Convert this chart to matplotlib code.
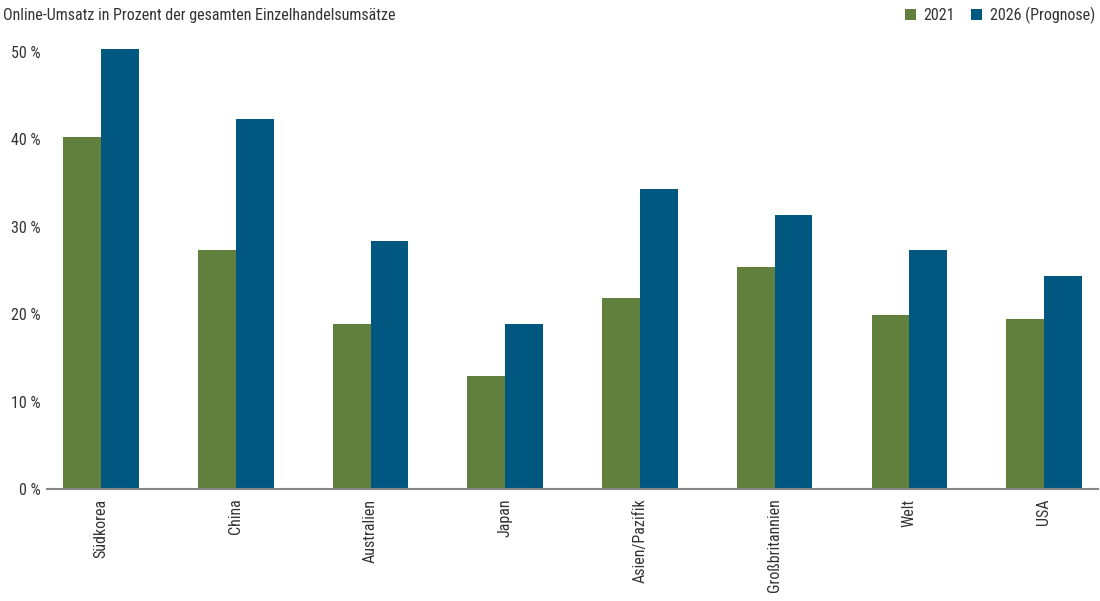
import matplotlib.pyplot as plt
import numpy as np
from matplotlib import font_manager

CATEGORIES = ["Südkorea", "China", "Australien", "Japan", "Asien/Pazifik",
              "Großbritannien", "Welt", "USA"]
VALUES_2021 = [40.3, 27.4, 18.9, 12.9, 21.9, 25.4, 19.9, 19.4]
VALUES_2026 = [50.3, 42.3, 28.4, 18.9, 34.3, 31.3, 27.4, 24.4]
SERIES_LABELS = ["2021", "2026 (Prognose)"]
Y_TICKS = [0, 10, 20, 30, 40, 50]

GREEN = "#62803d"
BLUE = "#00577f"
TEXT = "#333333"

names = {f.name for f in font_manager.fontManager.ttflist}
for fam in ["Roboto Condensed", "Liberation Sans Narrow", "Roboto", "DejaVu Sans"]:
    if fam in names:
        plt.rcParams["font.family"] = fam
        break

fig = plt.figure(figsize=(11, 6.01), dpi=100)
ax = fig.add_axes([0.043, 0.1864, 0.955, 0.756])

x = np.arange(len(CATEGORIES))
w = 0.28
ax.bar(x - w / 2, VALUES_2021, w, color=GREEN, label=SERIES_LABELS[0])
ax.bar(x + w / 2, VALUES_2026, w, color=BLUE, label=SERIES_LABELS[1])

ax.set_xlim(-0.4, len(CATEGORIES) - 0.6)
ax.set_ylim(0, 52)
ax.set_yticks(Y_TICKS)
ax.set_yticklabels([f"{t} %" for t in Y_TICKS], fontsize=11.5, color=TEXT)
ax.set_xticks(x)
ax.set_xticklabels(CATEGORIES, rotation=90, fontsize=11.5, color=TEXT)
ax.tick_params(axis="y", length=0, pad=5)
ax.tick_params(axis="x", length=0, pad=7)

for side in ["top", "right", "left"]:
    ax.spines[side].set_visible(False)
ax.spines["bottom"].set_color("#888888")
ax.spines["bottom"].set_linewidth(1.5)

fig.text(0.003, 0.975, "Online-Umsatz in Prozent der gesamten Einzelhandelsumsätze",
         fontsize=11.5, color=TEXT, va="center", ha="left")

fig.legend(loc="center right", bbox_to_anchor=(0.996, 0.975), ncol=2, frameon=False,
           fontsize=11.5, handlelength=0.7, handleheight=0.7, handletextpad=0.5,
           columnspacing=1.0, borderaxespad=0, borderpad=0, labelcolor=TEXT)

fig.savefig("out.png", dpi=100)
